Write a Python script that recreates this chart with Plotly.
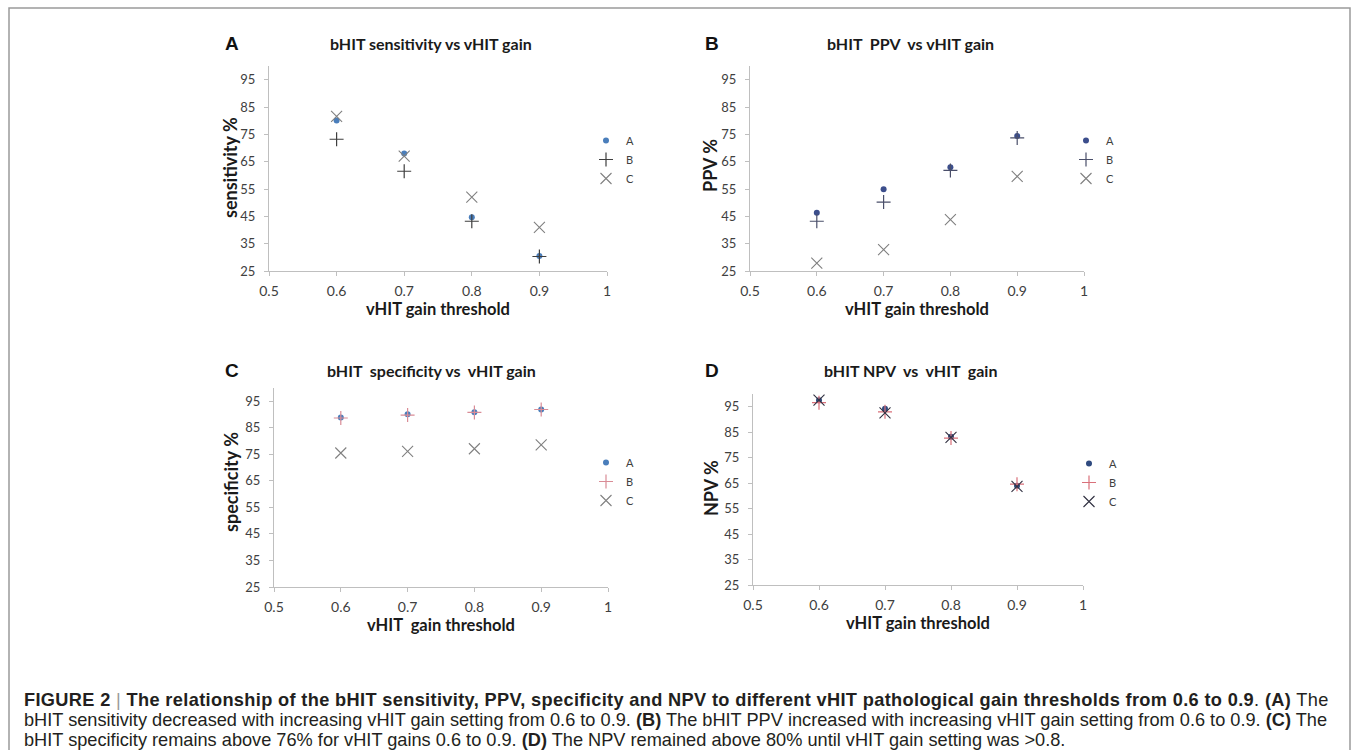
import plotly.graph_objects as go

W, H = 1357, 750

x_gain = [0.6, 0.7, 0.8, 0.9]
x_tickvals = [0.5, 0.6, 0.7, 0.8, 0.9, 1.0]
x_ticktext = ["0.5", "0.6", "0.7", "0.8", "0.9", "1"]
y_tickvals = [25, 35, 45, 55, 65, 75, 85, 95]

sens_A = [80.1, 68.0, 44.7, 30.5]
sens_B = [73.2, 61.5, 43.2, 30.3]
sens_C = [81.6, 67.0, 52.0, 41.0]

ppv_A = [46.3, 54.9, 63.0, 74.4]
ppv_B = [43.2, 50.2, 61.8, 73.7]
ppv_C = [27.9, 32.8, 43.8, 59.6]

spec_A = [88.9, 90.1, 90.9, 91.9]
spec_B = [88.7, 89.8, 90.8, 91.9]
spec_C = [75.5, 76.1, 77.1, 78.6]

npv_A = [97.5, 94.2, 83.2, 64.0]
npv_B = [96.6, 93.0, 82.7, 64.6]
npv_C = [97.6, 92.6, 83.0, 63.7]

series_names = ["A", "B", "C"]
panel_letters = ["A", "B", "C", "D"]
panel_titles = ["bHIT sensitivity vs vHIT gain", "bHIT  PPV  vs vHIT gain",
                "bHIT  specificity vs  vHIT gain", "bHIT NPV  vs  vHIT  gain"]
y_titles = ["sensitivity %", "PPV %", "specificity %", "NPV %"]
x_titles = ["vHIT gain threshold", "vHIT gain threshold", "vHIT  gain threshold", "vHIT gain threshold"]

LS = "<span style='letter-spacing:0.35px'>"
caption_lines = [
    LS + "<b>FIGURE 2</b> <span style='color:#999'>|</span> <b>The relationship of the bHIT sensitivity, PPV, specificity and NPV to different vHIT pathological gain thresholds from 0.6 to 0.9</b>. <b>(A)</b> The</span>",
    "bHIT sensitivity decreased with increasing vHIT gain setting from 0.6 to 0.9. <b>(B)</b> The bHIT PPV increased with increasing vHIT gain setting from 0.6 to 0.9. <b>(C)</b> The",
    "bHIT specificity remains above 76% for vHIT gains 0.6 to 0.9. <b>(D)</b> The NPV remained above 80% until vHIT gain setting was >0.8.",
]

def px(x):
    return x / W

def py(y):
    return 1 - y / H

# panel geometry in pixels: (x_left, x_right, y_bottom, y_top)
geo = [
    (269, 607, 271, 66),
    (750, 1084, 271, 66),
    (274, 608, 587, 388),
    (753, 1083, 585, 394),
]
ytitle_pos = [(230, 168), (710, 166), (231, 482), (711, 488)]

data_sets = [
    (sens_A, sens_B, sens_C),
    (ppv_A, ppv_B, ppv_C),
    (spec_A, spec_B, spec_C),
    (npv_A, npv_B, npv_C),
]

colA = ["#4A7EBB", "#3C4E8C", "#4A7EBB", "#2F4A7F"]
colB = ["#3F3F3F", "#4A4F6A", "#D98C96", "#D9707A"]
colC = ["#808080", "#7F7F7F", "#808080", "#303040"]

legend_pos = [(586, 126), (1066, 126), (586, 448), (1069, 449)]

fig = go.Figure()
layout = dict(width=W, height=H, margin=dict(l=0, r=0, t=0, b=0, autoexpand=False),
              paper_bgcolor="white", plot_bgcolor="white")

font_chart = "Lato, 'Open Sans', sans-serif"
annotations = []

for i in range(4):
    xl, xr, yb, yt = geo[i]
    sfx = "" if i == 0 else str(i + 1)
    xa = "x" + sfx
    ya = "y" + sfx
    lg = "legend" + sfx
    A, B, C = data_sets[i]
    fig.add_trace(go.Scatter(x=x_gain, y=A, mode="markers", name=series_names[0], xaxis=xa, yaxis=ya,
                             legend=lg, marker=dict(symbol="circle", size=6, color=colA[i])))
    fig.add_trace(go.Scatter(x=x_gain, y=B, mode="markers", name=series_names[1], xaxis=xa, yaxis=ya,
                             legend=lg, marker=dict(symbol="cross-thin", size=10, color=colB[i],
                                                    line=dict(width=1.2, color=colB[i]))))
    fig.add_trace(go.Scatter(x=x_gain, y=C, mode="markers", name=series_names[2], xaxis=xa, yaxis=ya,
                             legend=lg, marker=dict(symbol="x-thin", size=11, color=colC[i],
                                                    line=dict(width=1.1, color=colC[i]))))
    layout["xaxis" + sfx] = dict(domain=[px(xl), px(xr)], range=[0.5, 1.0], anchor=ya,
                                 tickvals=x_tickvals, ticktext=x_ticktext, showline=True,
                                 linecolor="#BFBFBF", linewidth=1, ticks="outside", ticklen=4,
                                 tickcolor="#BFBFBF", showgrid=False, zeroline=False,
                                 ticklabelstandoff=3,
                                 tickfont=dict(family=font_chart, size=14, color="#404040"),
                                 title=dict(text="<b>" + x_titles[i] + "</b>", standoff=1,
                                            font=dict(family=font_chart, size=16.5, color="#1a1a1a")))
    layout["yaxis" + sfx] = dict(domain=[py(yb), py(yt)], range=[25, 100], anchor=xa,
                                 tickvals=y_tickvals, showline=True,
                                 linecolor="#BFBFBF", linewidth=1, ticks="outside", ticklen=4,
                                 tickcolor="#BFBFBF", showgrid=False, zeroline=False,
                                 ticklabelstandoff=6,
                                 tickfont=dict(family=font_chart, size=13, color="#404040"))
    tx, tyy = ytitle_pos[i]
    annotations.append(dict(x=px(tx), y=py(tyy), xref="paper", yref="paper", text="<b>" + y_titles[i] + "</b>",
                            showarrow=False, textangle=-90, xanchor="center", yanchor="middle",
                            font=dict(family=font_chart, size=18, color="#1a1a1a")))
    lx, ly = legend_pos[i]
    layout[lg] = dict(x=px(lx), y=py(ly), xanchor="left", yanchor="top", bgcolor="rgba(0,0,0,0)",
                      font=dict(family=font_chart, size=11, color="#404040"), itemwidth=30,
                      tracegroupgap=0)
    ty = 43 if i < 2 else 370
    letx = 232 if i % 2 == 0 else 712
    titx = 431 if i % 2 == 0 else 910
    annotations.append(dict(x=px(letx), y=py(ty), xref="paper", yref="paper", text="<b>" + panel_letters[i] + "</b>",
                            showarrow=False, xanchor="center", yanchor="middle",
                            font=dict(family="Liberation Sans, Arial", size=19, color="#111")))
    annotations.append(dict(x=px(titx), y=py(ty), xref="paper", yref="paper", text="<b>" + panel_titles[i] + "</b>",
                            showarrow=False, xanchor="center", yanchor="middle",
                            font=dict(family=font_chart, size=16, color="#1a1a1a")))

for k, line in enumerate(caption_lines):
    annotations.append(dict(x=px(22), y=py(700 + 20 * k), xref="paper", yref="paper", text=line,
                            showarrow=False, xanchor="left", yanchor="middle", align="left",
                            font=dict(family="Liberation Sans, Arial, sans-serif", size=18.2, color="#231F20")))

layout["annotations"] = annotations
layout["shapes"] = [dict(type="rect", xref="paper", yref="paper", x0=px(9), x1=px(1350), y0=py(760), y1=py(8),
                         line=dict(color="#9A9A9A", width=1.5), fillcolor="rgba(0,0,0,0)", layer="below")]
layout["showlegend"] = True
fig.update_layout(**layout)
fig.write_html("out.html", config={"displayModeBar": False},
               post_script="document.documentElement.style.margin='0';document.body.style.margin='0';"
                           "document.body.style.padding='0';document.body.style.overflow='hidden';")
